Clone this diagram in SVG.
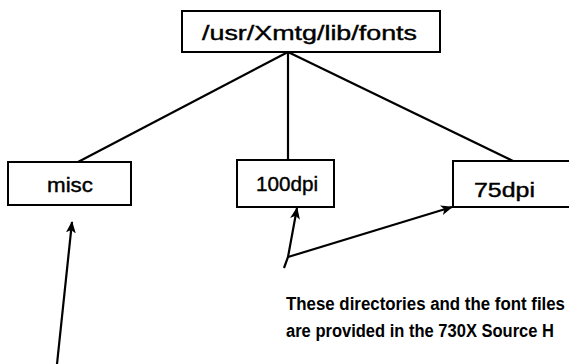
<svg xmlns="http://www.w3.org/2000/svg" width="569" height="364" viewBox="0 0 569 364">
<style>
.box{fill:#fff;stroke:#000;stroke-width:2}
.lbl{font-family:"Liberation Sans",Arial,sans-serif;font-size:20px;fill:#000;stroke:#000;stroke-width:0.4}
.note{font-family:"Liberation Sans",Arial,sans-serif;font-size:18px;font-weight:bold;fill:#000}
.ln{stroke:#000;stroke-width:2.2;fill:none}
</style>
<defs>
<marker id="ah" viewBox="0 0 12 10" refX="11" refY="5" markerWidth="12" markerHeight="10" markerUnits="userSpaceOnUse" orient="auto">
<path d="M0,0 L12,5 L0,10 L3,5 z" fill="#000"/>
</marker>
</defs>
<rect width="569" height="364" fill="#fff"/>
<g id="connectors">
<line class="ln" x1="288" y1="52" x2="78" y2="162"/>
<line class="ln" x1="288" y1="52" x2="288" y2="160"/>
<line class="ln" x1="288" y1="52" x2="513" y2="161"/>
<line class="ln" x1="57" y1="364" x2="72" y2="222" marker-end="url(#ah)"/>
<polyline class="ln" points="284,268 288,257 297,208" marker-end="url(#ah)"/>
<line class="ln" x1="288" y1="257" x2="452" y2="207" marker-end="url(#ah)"/>
</g>
<g id="root">
<rect class="box" x="182" y="11" width="258" height="41"/>
<text class="lbl" x="202" y="40" textLength="215" lengthAdjust="spacingAndGlyphs">/usr/Xmtg/lib/fonts</text>
</g>
<g id="misc">
<rect class="box" x="8" y="162" width="123" height="43"/>
<text class="lbl" x="47" y="192" textLength="46" lengthAdjust="spacingAndGlyphs">misc</text>
</g>
<g id="dpi100">
<rect class="box" x="237" y="160" width="97" height="47"/>
<text class="lbl" x="256" y="191" textLength="62" lengthAdjust="spacingAndGlyphs">100dpi</text>
</g>
<g id="dpi75">
<rect class="box" x="453" y="161" width="130" height="46"/>
<text class="lbl" x="474" y="197" textLength="61" lengthAdjust="spacingAndGlyphs">75dpi</text>
</g>
<g id="note">
<text class="note" x="286" y="310" textLength="279" lengthAdjust="spacingAndGlyphs">These directories and the font files</text>
<text class="note" x="286" y="337" textLength="268" lengthAdjust="spacingAndGlyphs">are provided in the 730X Source H</text>
</g>
</svg>
